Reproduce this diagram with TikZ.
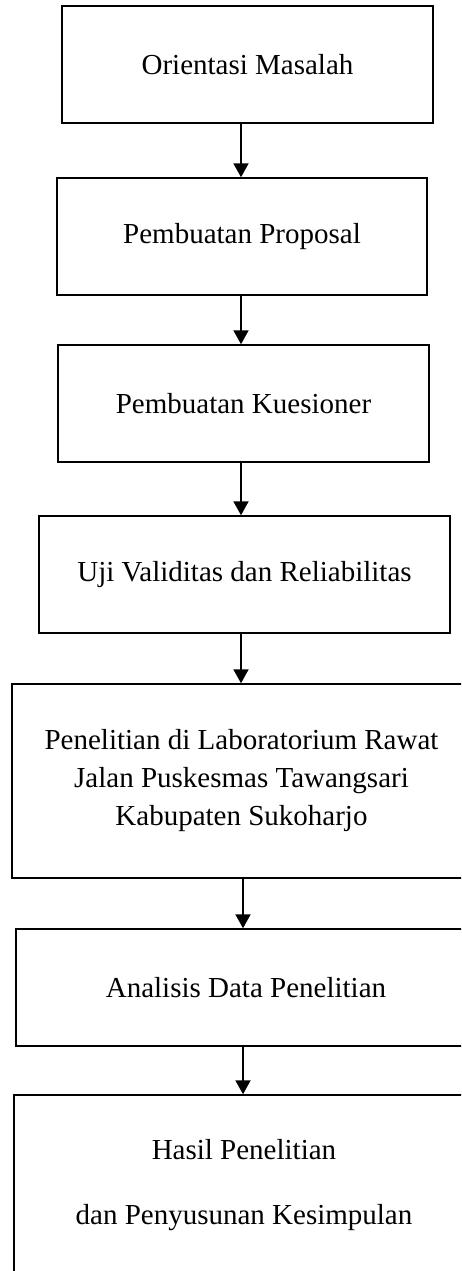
\documentclass[tikz,border=0pt]{standalone}
\usepackage{fontspec}
\setmainfont{Liberation Serif}
\usetikzlibrary{arrows.meta}
\begin{document}
\begin{tikzpicture}[x=1pt,y=-1pt,
  box/.style={draw, line width=1.5pt, rectangle, inner sep=0pt, align=center,
    font=\fontsize{29}{38}\selectfont},
  arr/.style={line width=2pt, -{Triangle[length=14pt,width=15pt]}}]
\useasboundingbox (0,0) rectangle (461,1271);
\clip (0,0) rectangle (461,1271);
\fill[white] (0,0) rectangle (461,1271);
\node[box, minimum width=371pt, minimum height=117pt] (b1) at (247.5,64.5) {Orientasi Masalah};
\node[box, minimum width=370pt, minimum height=117pt] (b2) at (242,236.5) {Pembuatan Proposal};
\node[box, minimum width=371pt, minimum height=117pt] (b3) at (243.5,403.5) {Pembuatan Kuesioner};
\node[box, minimum width=411pt, minimum height=117pt] (b4) at (244.5,574.5) {Uji Validitas dan Reliabilitas};
\node[box, minimum width=459pt, minimum height=194pt] (b5) at (241.5,781) {Penelitian di Laboratorium Rawat\\Jalan Puskesmas Tawangsari\\Kabupaten Sukoharjo};
\node[box, minimum width=460pt, minimum height=117pt] (b6) at (246,987.5) {Analisis Data Penelitian};
\node[box, minimum width=460pt, minimum height=181pt] (b7) at (244,1185.5) {Hasil Penelitian\\[27pt]dan Penyusunan Kesimpulan};
\coordinate (ax) at (241,0);
\coordinate (bx) at (243,0);
\draw[arr] (b1.south -| ax) -- (b2.north -| ax);
\draw[arr] (b2.south -| ax) -- (b3.north -| ax);
\draw[arr] (b3.south -| ax) -- (b4.north -| ax);
\draw[arr] (b4.south -| ax) -- (b5.north -| ax);
\draw[arr] (b5.south -| bx) -- (b6.north -| bx);
\draw[arr] (b6.south -| bx) -- (b7.north -| bx);
\end{tikzpicture}
\end{document}
